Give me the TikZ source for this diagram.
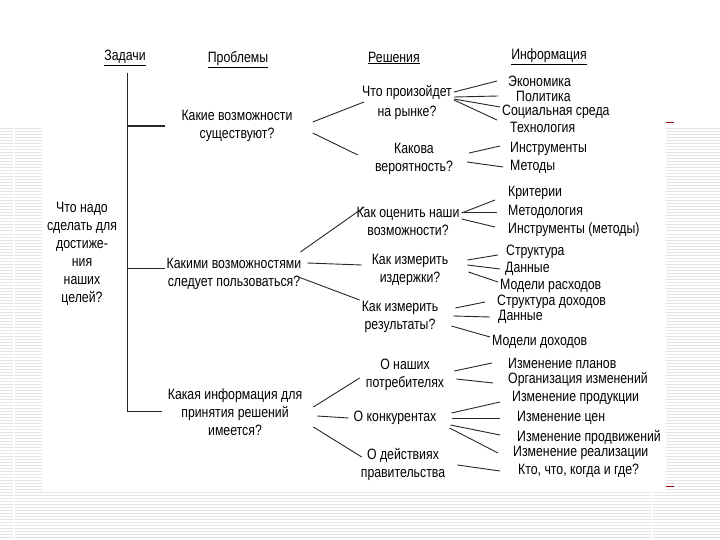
\documentclass[tikz,border=0pt]{standalone}
\usepackage{fontspec}
\setmainfont{Liberation Sans}[FakeStretch=0.82]

\tikzset{
  txt/.style = {inner sep = 2pt, align = center, text = black, font = \fontsize{15}{18}\selectfont},
  info/.style = {txt, anchor = west},
  link/.style = {line width = 0.9pt, black!85},
  stripe/.style = {black!10, line width = 1pt}
}

\begin{document}
\begin{tikzpicture}[x = 1pt, y = -1pt]
        \useasboundingbox (0,0) rectangle (720,540);
        \def\treex{127};

        % slide background
        \foreach \yy in {129,132,...,489} {
            \draw[stripe] (0,\yy) -- (42,\yy);
            \draw[stripe] (666,\yy) -- (720,\yy);
        }
        \foreach \yy in {492,495,...,540} \draw[stripe] (0,\yy) -- (720,\yy);
        \draw[white, line width = 1.2pt] (14,128) -- (14,540);
        \draw[white, line width = 1.2pt] (652,490) -- (652,540);
        \draw[red!60!black, line width = 1pt] (666,123) -- (674,123);
        \draw[red!60!black, line width = 1pt] (666,486) -- (674,486);

        % headers
        \node[txt] (hzad) at (125,58) {\underline{Задачи}};
        \node[txt] (hprob) at (238,60) {\underline{Проблемы}};
        \node[txt] (hres) at (394,58) {\underline{Решения}};
        \node[txt] (hinf) at (549,57) {\underline{Информация}};

        % task
        \node[txt] (task) at (82,254) {Что надо\\сделать для\\достиже-\\ния\\наших\\целей?};

        % problems
        \node[txt] (p1) at (237,126) {Какие возможности\\существуют?};
        \node[txt] (p2) at (234,274) {Какими возможностями\\следует пользоваться?};
        \node[txt] (p3) at (235,412) {Какая информация для\\принятия решений\\имеется?};

        \coordinate (top) at (\treex,73);
        \coordinate (t1) at (\treex,126);
        \coordinate (t2) at (\treex,268);
        \coordinate (t3) at (\treex,411);
        \draw[link] (top) -- (t3);
        \draw[line width = 2pt, black!85] (t1) -- ([xshift = -14pt]p1.west);
        \draw[link] (t2) -- (t2 -| p2.west);
        \draw[link] (t3) -- ([xshift = -4pt]t3 -| p3.west);

        % solutions
        \node[txt] (s1) at (407,102) {Что произойдет\\[2pt]на рынке?};
        \node[txt] (s2) at (414,159) {Какова\\вероятность?};
        \node[txt] (s3) at (408,221) {Как оценить наши\\возможности?};
        \node[txt] (s4) at (410,270) {Как измерить\\издержки?};
        \node[txt] (s5) at (400,317) {Как измерить\\результаты?};
        \node[txt] (s6) at (405,375) {О наших\\потребителях};
        \node[txt] (s7) at (395,418) {О конкурентах};
        \node[txt] (s8) at (403,464) {О действиях\\правительства};

        \draw[link] ([xshift = 18pt, yshift = 4pt]p1.east) -- ([xshift = 4pt]s1.west);
        \draw[link] ([xshift = 18pt, yshift = -7pt]p1.east) -- ([xshift = -15pt, yshift = 4pt]s2.west);
        \draw[link] ([xshift = -3pt, yshift = 22pt]p2.east) -- ([xshift = 10pt, yshift = 14pt]s3.west);
        \draw[link] ([xshift = 4pt, yshift = 11pt]p2.east) -- ([xshift = -8pt, yshift = 5pt]s4.west);
        \draw[link] ([xshift = -5pt, yshift = -3pt]p2.east) -- ([yshift = 17pt]s5.west);
        \draw[link] ([xshift = 9pt, yshift = 5pt]p3.east) -- ([xshift = -4pt, yshift = -3pt]s6.west);
        \draw[link] ([xshift = 13pt, yshift = -4pt]p3.east) -- ([xshift = -3pt]s7.west);
        \draw[link] ([xshift = 9pt, yshift = -15pt]p3.east) -- ([xshift = 3pt, yshift = 7pt]s8.west);

        % information
        \node[info] (eko) at (506,81) {Экономика};
        \node[info] (pol) at (514,96) {Политика};
        \node[info] (soc) at (500,112) {Социальная среда};
        \node[info] (tech) at (508,127) {Технология};
        \node[info] (instr) at (508,149) {Инструменты};
        \node[info] (met) at (508,167) {Методы};
        \node[info] (krit) at (506,193) {Критерии};
        \node[info] (metod) at (506,212) {Методология};
        \node[info] (instrm) at (506,230) {Инструменты (методы)};
        \node[info] (str1) at (504,252) {Структура};
        \node[info] (dan1) at (503,269) {Данные};
        \node[info] (modr) at (498,286) {Модели расходов};
        \node[info] (str2) at (495,302) {Структура доходов};
        \node[info] (dan2) at (496,317) {Данные};
        \node[info] (modd) at (490,342) {Модели доходов};
        \node[info] (izpl) at (506,363) {Изменение планов};
        \node[info] (org) at (506,379) {Организация изменений};
        \node[info] (izprod) at (510,398) {Изменение продукции};
        \node[info] (izc) at (515,418) {Изменение цен};
        \node[info] (izprodv) at (515,437) {Изменение продвижений};
        \node[info] (izreal) at (511,453) {Изменение реализации};
        \node[info] (kto) at (516,471) {Кто, что, когда и где?};

        \draw[link] ([yshift = 10pt]s1.east) -- ([xshift = -9pt]eko.west);
        \draw[link] ([yshift = 5pt]s1.east) -- ([xshift = -16pt]pol.west);
        \draw[link] ([yshift = 3pt]s1.east) -- ([yshift = 5pt]soc.west);
        \draw[link] ([yshift = 2pt]s1.east) -- ([xshift = -11pt, yshift = 7pt]tech.west);

        \draw[link] ([xshift = 14pt, yshift = 6pt]s2.east) -- ([xshift = -8pt, yshift = 3pt]instr.west);
        \draw[link] ([xshift = 12pt, yshift = -3pt]s2.east) -- ([xshift = -5pt]met.west);

        \draw[link] ([yshift = 8pt]s3.east) -- ([xshift = -11pt, yshift = -7pt]krit.west);
        \draw[link] ([yshift = 9pt]s3.east) -- ([xshift = -9pt]metod.west);
        \draw[link] ([yshift = 2pt]s3.east) -- ([xshift = -11pt, yshift = 3pt]instrm.west);

        \draw[link] ([xshift = 17pt, yshift = 10pt]s4.east) -- ([xshift = -6pt, yshift = -3pt]str1.west);
        \draw[link] ([xshift = 17pt, yshift = 5pt]s4.east) -- ([xshift = -3pt]dan1.west);
        \draw[link] ([xshift = 18pt, yshift = -2pt]s4.east) -- ([yshift = 4pt]modr.west);

        \draw[link] ([xshift = 15pt, yshift = 9pt]s5.east) -- ([xshift = -10pt]str2.west);
        \draw[link] ([xshift = 13pt, yshift = 1pt]s5.east) -- ([xshift = -6pt]dan2.west);
        \draw[link] ([xshift = 11pt, yshift = -9pt]s5.east) -- ([yshift = 5pt]modd.west);

        \draw[link] ([xshift = 8pt, yshift = 4pt]s6.east) -- ([xshift = -14pt]izpl.west);
        \draw[link] ([xshift = 10pt, yshift = -4pt]s6.east) -- ([xshift = -13pt, yshift = -4pt]org.west);

        \draw[link] ([xshift = 13pt, yshift = 5pt]s7.east) -- ([xshift = -10pt, yshift = -4pt]izprod.west);
        \draw[link] ([xshift = 13pt]s7.east) -- ([xshift = -15pt]izc.west);
        \draw[link] ([xshift = 12pt, yshift = -7pt]s7.east) -- ([xshift = -15pt, yshift = 2pt]izprodv.west);
        \draw[link] ([xshift = 11pt, yshift = -10pt]s7.east) -- ([xshift = -13pt]izreal.west);

        \draw[link] ([xshift = 10pt, yshift = -1pt]s8.east) -- ([xshift = -16pt]kto.west);
\end{tikzpicture}
\end{document}
